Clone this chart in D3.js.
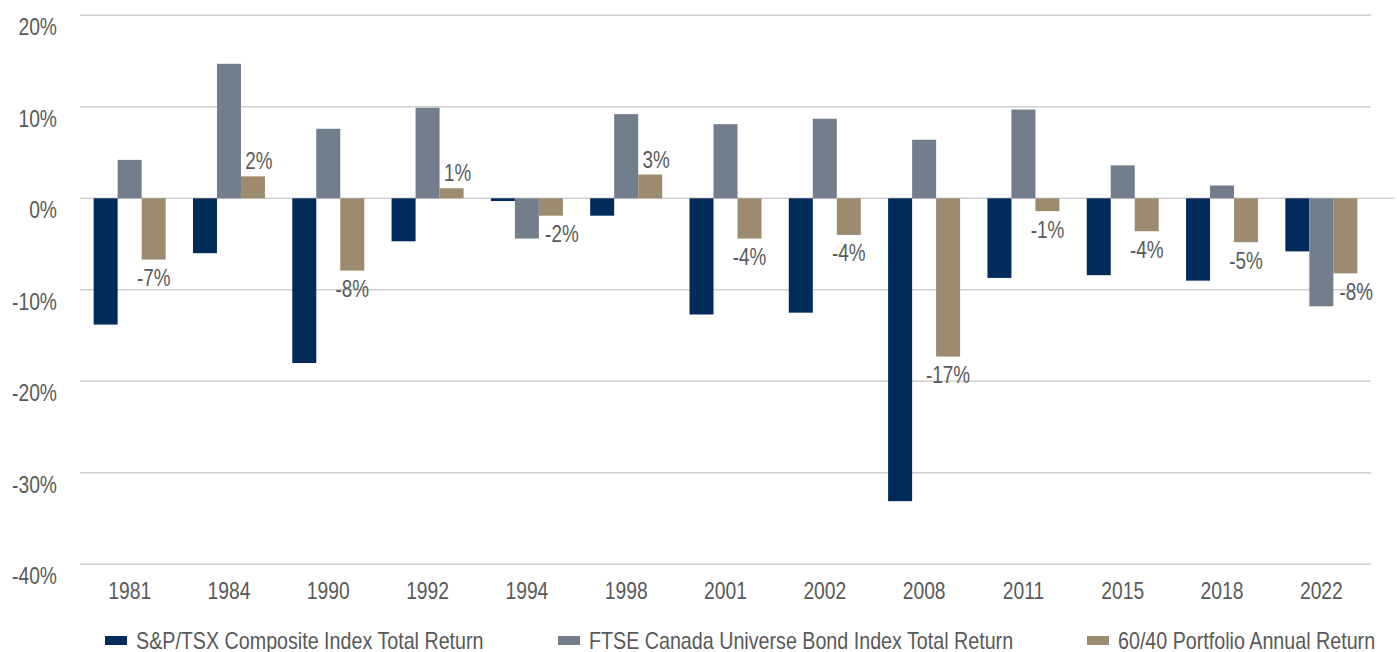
<!DOCTYPE html>
<html>
<head>
<meta charset="utf-8">
<script src="https://cdn.jsdelivr.net/npm/d3@7"></script>
<style>
    html, body { margin: 0; padding: 0; background: #fff; }
    svg text { font-family: 'Liberation Sans', Arial, sans-serif; fill: #595959; }
</style>
</head>
<body>
<div id="content"></div>
<script>
'use strict';

var years = ['1981', '1984', '1990', '1992', '1994', '1998', '2001', '2002', '2008', '2011', '2015', '2018', '2022'];
var seriesNames = [
    'S&P/TSX Composite Index Total Return',
    'FTSE Canada Universe Bond Index Total Return',
    '60/40 Portfolio Annual Return'
];
var stockReturns = [-13.8, -6.0, -18.0, -4.7, -0.3, -1.9, -12.7, -12.5, -33.1, -8.7, -8.4, -9.0, -5.8];
var bondReturns = [4.2, 14.7, 7.6, 9.9, -4.4, 9.2, 8.1, 8.7, 6.4, 9.7, 3.6, 1.4, -11.8];
var portfolioReturns = [-6.7, 2.4, -7.9, 1.1, -1.9, 2.6, -4.4, -4.0, -17.3, -1.4, -3.6, -4.8, -8.2];
var yTicks = [20, 10, 0, -10, -20, -30, -40];

var colors = ['#022b5c', '#727e8b', '#9c8b6f'];

// no narrow font installed, so squeeze the glyphs like a condensed face
function condense(selection, k) {
    selection.each(function () {
        var len = this.getComputedTextLength();
        d3.select(this)
            .attr('textLength', len * (k || 0.82))
            .attr('lengthAdjust', 'spacingAndGlyphs');
    });
}

function pct(v) {
    return Math.round(v) + '%';
}

function run() {
    var width = 1397, height = 652;
    var plot = { left: 80, right: 1371, top: 15.3, bottom: 564.3 };

    var svg = d3.select('#content')
        .append('svg')
        .attr('width', width)
        .attr('height', height);

    var rows = years.map(function (y, i) {
        return { year: y, values: [stockReturns[i], bondReturns[i], portfolioReturns[i]] };
    });

    var x = d3.scaleBand()
        .domain(years)
        .range([plot.left, plot.right])
        .paddingInner(0.275)
        .paddingOuter(0.1375);

    var xs = d3.scaleBand()
        .domain([0, 1, 2])
        .range([0, x.bandwidth()]);

    var y = d3.scaleLinear()
        .domain([-40, 20])
        .range([plot.bottom, plot.top]);

    // gridlines
    svg.append('g')
        .selectAll('line')
        .data(yTicks)
        .enter()
        .append('line')
        .attr('x1', plot.left)
        .attr('x2', function (d) { return d === 0 ? 1394 : plot.right; })
        .attr('y1', function (d) { return y(d); })
        .attr('y2', function (d) { return y(d); })
        .style('stroke', '#cfcfcf')
        .style('stroke-width', 1.5);

    // y labels
    var yAxis = svg.append('g')
        .attr('transform', 'translate(' + 57 + ' 0)')
        .call(d3.axisLeft(y)
            .tickValues(yTicks)
            .tickSize(0)
            .tickPadding(0)
            .tickFormat(pct));
    yAxis.select('.domain').remove();
    yAxis.selectAll('text')
        .attr('dy', null)
        .attr('y', 19.5)
        .style('font-size', '23.5px')
        .attr('fill', null)
        .call(condense);

    // x labels
    var xAxis = svg.append('g')
        .attr('transform', 'translate(0 ' + plot.bottom + ')')
        .call(d3.axisBottom(x).tickSize(0).tickPadding(0));
    xAxis.select('.domain').remove();
    xAxis.selectAll('text')
        .attr('dy', null)
        .attr('y', 34.7)
        .style('font-size', '23.5px')
        .attr('fill', null)
        .call(condense);

    // bars
    var group = svg.append('g')
        .selectAll('g')
        .data(rows)
        .enter()
        .append('g')
        .attr('transform', function (d) { return 'translate(' + x(d.year) + ' 0)'; });

    group.selectAll('rect')
        .data(function (d) { return d.values; })
        .enter()
        .append('rect')
        .attr('x', function (d, i) { return xs(i); })
        .attr('width', xs.bandwidth())
        .attr('y', function (d) { return y(Math.max(0, d)); })
        .attr('height', function (d) { return Math.abs(y(d) - y(0)); })
        .style('fill', function (d, i) { return colors[i]; });

    // data labels on the 60/40 bars
    group.append('text')
        .attr('x', function (d) {
            var v = d.values[2], dx = 0;
            if (v > 0) dx = 6;
            else if (d.values[1] < v) dx = 11;
            return xs(2) + xs.bandwidth() / 2 + dx;
        })
        .attr('y', function (d) {
            var v = d.values[2];
            return v > 0 ? y(v) - 7 : y(v) + 26.5;
        })
        .style('text-anchor', 'middle')
        .style('font-size', '23px')
        .text(function (d) { return pct(d.values[2]); })
        .call(condense);

    // legend
    var legendX = [105, 558, 1087];
    var legend = svg.append('g')
        .selectAll('g')
        .data(seriesNames)
        .enter()
        .append('g')
        .attr('transform', function (d, i) { return 'translate(' + legendX[i] + ' 0)'; });

    legend.append('rect')
        .attr('y', 636)
        .attr('width', 22)
        .attr('height', 9)
        .style('fill', function (d, i) { return colors[i]; });

    legend.append('text')
        .attr('x', 31)
        .attr('y', 648.5)
        .style('font-size', '24px')
        .text(function (d) { return d; })
        .call(condense);
}

document.addEventListener('DOMContentLoaded', run);
</script>
</body>
</html>
